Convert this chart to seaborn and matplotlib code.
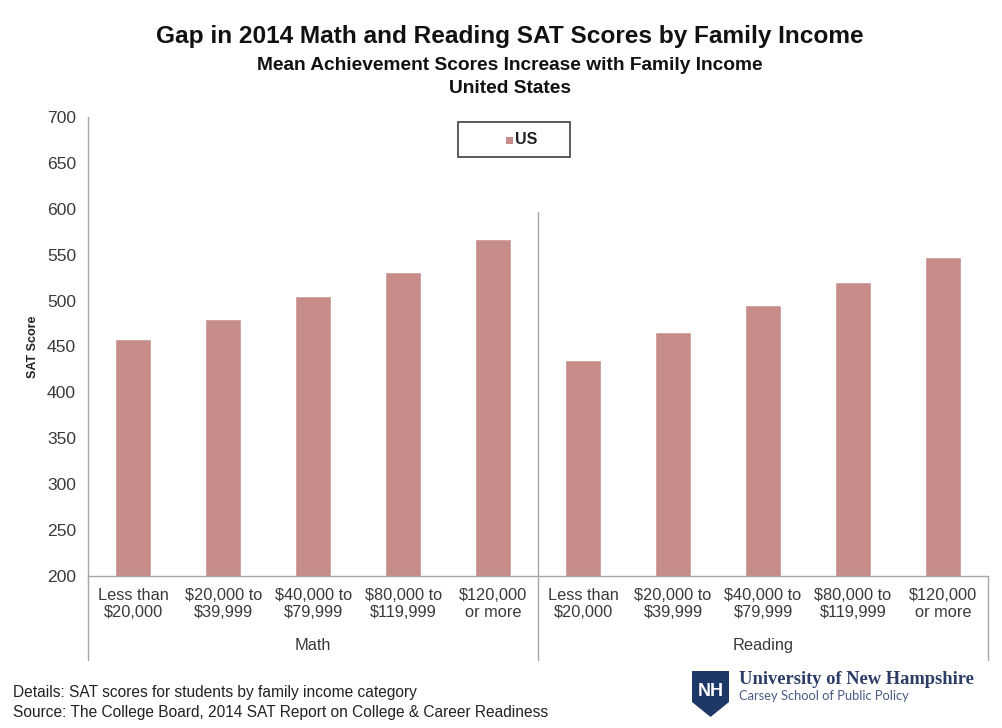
import matplotlib
matplotlib.use("Agg")
import matplotlib.pyplot as plt
from matplotlib.lines import Line2D
from matplotlib.patches import Rectangle, Polygon
import seaborn as sns
import pandas as pd

# --- data -------------------------------------------------------------
subjects = ["Math", "Reading"]
income_labels = [
    "Less than\n$20,000",
    "$20,000 to\n$39,999",
    "$40,000 to\n$79,999",
    "$80,000 to\n$119,999",
    "$120,000\nor more",
]
math_scores = [458, 480, 505, 531, 567]
reading_scores = [435, 466, 495, 520, 548]
y_ticks = [200, 250, 300, 350, 400, 450, 500, 550, 600, 650, 700]

rows = []
for subj, scores in zip(subjects, [math_scores, reading_scores]):
    for lab, val in zip(income_labels, scores):
        rows.append({"key": f"{subj}|{lab}", "subject": subj,
                     "income": lab, "score": val, "series": "US"})
df = pd.DataFrame(rows)

# --- style ------------------------------------------------------------
sns.set_theme(style="white")
plt.rcParams["font.family"] = ["Liberation Sans", "DejaVu Sans"]

BAR = "#c58c89"
AXIS = "#a6a6a6"
TEXT = "#3a3a3a"

fig = plt.figure(figsize=(10.03, 7.28), dpi=100)
ax = fig.add_axes([0.0882, 0.2088, 0.8968, 0.6305])

sns.barplot(data=df, x="key", y="score", color=BAR, width=0.4,
            saturation=1, ax=ax, legend=False)

ax.set_ylim(200, 700)
ax.set_xlim(-0.5, len(df) - 0.5)
ax.set_yticks(y_ticks)
ax.set_yticklabels([str(t) for t in y_ticks], fontsize=12.6, color=TEXT)
ax.set_xticks(range(len(df)))
ax.set_xticklabels(df["income"], fontsize=11.8, color=TEXT, linespacing=1.15)
ax.tick_params(axis="both", length=0)
ax.tick_params(axis="y", pad=9)
ax.tick_params(axis="x", pad=9)
ax.set_xlabel("")
ax.set_ylabel("SAT Score", fontsize=9, fontweight="bold", color="#222222",
              labelpad=6)

for side in ["top", "right"]:
    ax.spines[side].set_visible(False)
for side in ["left", "bottom"]:
    ax.spines[side].set_color(AXIS)
    ax.spines[side].set_linewidth(1.0)

# multi-level category axis: separators and group names
depth = -0.183
sep_kw = dict(color=AXIS, lw=1.0, transform=ax.transAxes, clip_on=False)
ax.add_line(Line2D([0, 0], [0, depth], **sep_kw))
ax.add_line(Line2D([0.5, 0.5], [(597 - 200) / 500, depth], **sep_kw))
ax.add_line(Line2D([1, 1], [0, depth], **sep_kw))
for i, subj in enumerate(subjects):
    ax.text(0.25 + 0.5 * i, -0.152, subj, transform=ax.transAxes,
            ha="center", va="center", fontsize=11.8, color=TEXT)

# legend box
lx0, ly0, lw, lh = 458 / 1003, 1 - 157 / 728, 112 / 1003, 35 / 728
fig.patches.append(Rectangle((lx0, ly0), lw, lh, transform=fig.transFigure,
                             facecolor="white", edgecolor="#404040", lw=1.2))
fig.patches.append(Rectangle((506 / 1003, 1 - 144 / 728), 7 / 1003, 7 / 728,
                             transform=fig.transFigure, facecolor=BAR,
                             edgecolor="none"))
fig.text(515 / 1003, 1 - 140 / 728, "US", fontsize=11.5, fontweight="bold",
         color="#222222", ha="left", va="center")

# titles
fig.text(0.508, 0.950, "Gap in 2014 Math and Reading SAT Scores by Family Income",
         ha="center", va="center", fontsize=17.6, fontweight="bold",
         color="#111111")
fig.text(0.508, 0.910, "Mean Achievement Scores Increase with Family Income",
         ha="center", va="center", fontsize=13.8, fontweight="bold",
         color="#111111")
fig.text(0.508, 0.879, "United States", ha="center", va="center",
         fontsize=13.8, fontweight="bold", color="#111111")

# footer notes
fig.text(13 / 1003, 1 - 693 / 728,
         "Details: SAT scores for students by family income category",
         ha="left", va="center", fontsize=11.2, color="#222222")
fig.text(13 / 1003, 1 - 713 / 728,
         "Source: The College Board, 2014 SAT Report on College & Career Readiness",
         ha="left", va="center", fontsize=11.2, color="#222222")

# institution mark
NAVY = "#1d3767"
shield = [(692, 671), (729, 671), (729, 702), (710.5, 717), (692, 702)]
fig.patches.append(Polygon([(x / 1003, 1 - y / 728) for x, y in shield],
                           closed=True, transform=fig.transFigure,
                           facecolor=NAVY, edgecolor="none"))
fig.text(710.5 / 1003, 1 - 691 / 728, "NH", ha="center", va="center",
         fontsize=13, fontweight="bold", color="white",
         family=["Liberation Sans Narrow", "Liberation Sans"])
fig.text(739 / 1003, 1 - 679 / 728, "University of New Hampshire",
         ha="left", va="center", fontsize=13.3, fontweight="bold",
         color="#2c3d66", family=["Liberation Serif", "DejaVu Serif"])
fig.text(739 / 1003, 1 - 696 / 728, "Carsey School of Public Policy",
         ha="left", va="center", fontsize=9.3, color="#4a5a82",
         family=["Lato", "DejaVu Sans"])

fig.savefig("out.png", dpi=100, facecolor="white")
